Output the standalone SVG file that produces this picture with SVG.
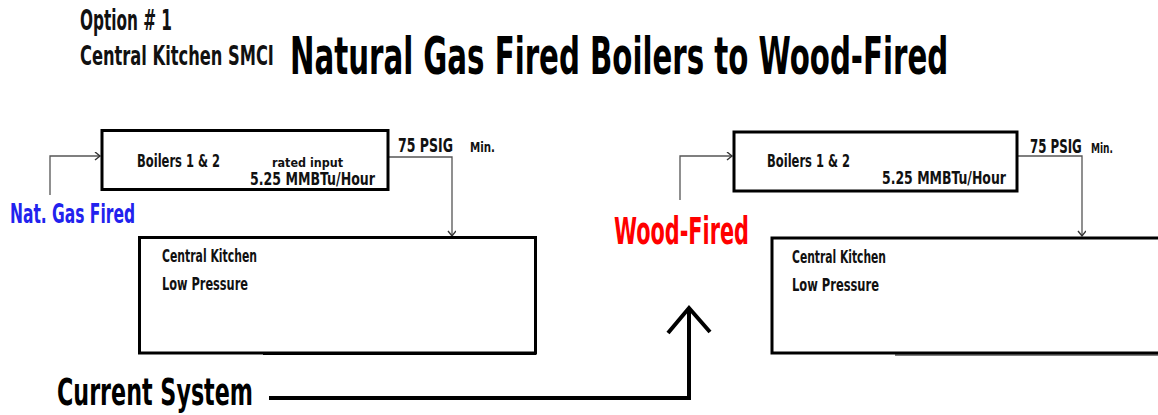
<svg xmlns="http://www.w3.org/2000/svg" width="1158" height="415" viewBox="0 0 1158 415">
<style>
text{font-family:"DejaVu Sans Condensed","Liberation Sans Narrow","Liberation Sans",sans-serif;font-weight:bold;fill:#111}
.box{fill:#fff;stroke:#000;stroke-width:3}
.thin{fill:none;stroke:#555;stroke-width:1.3}
.thick{fill:none;stroke:#000;stroke-width:4}
</style>
<defs>
<marker id="chev" markerUnits="userSpaceOnUse" markerWidth="10" markerHeight="10" refX="6" refY="4" orient="auto">
<path d="M1,0 L6,4 L1,8" fill="none" stroke="#333" stroke-width="1.4"/>
</marker>
</defs>
<g id="title">
<text x="80" y="30" font-size="28" textLength="92" lengthAdjust="spacingAndGlyphs">Option # 1</text>
<g transform="translate(80,65) scale(0.7,1)">
<text x="0" y="0" font-size="27" textLength="277" lengthAdjust="spacingAndGlyphs">Central Kitchen SMCI</text>
</g>
<g transform="translate(290,74) scale(0.6,1)">
<text x="0" y="0" font-size="51" style="fill:#000" textLength="1097" lengthAdjust="spacingAndGlyphs">Natural Gas Fired Boilers to Wood-Fired</text>
</g>
</g>
<g id="connectors">
<path class="thin" d="M50,195 V156 H100" marker-end="url(#chev)"/>
<path class="thin" d="M389,157 H452 V236" marker-end="url(#chev)"/>
<path class="thin" d="M680,200 V156 H732" marker-end="url(#chev)"/>
<path class="thin" d="M1018,156 H1082 V236" marker-end="url(#chev)"/>
<path class="thick" d="M269,398 H689 V308"/>
<polyline class="thick" points="668,333 689,308 710,332"/>
</g>
<g id="boilers-left">
<rect class="box" x="102" y="130.5" width="286" height="59"/>
<text x="137" y="167" font-size="18" textLength="83" lengthAdjust="spacingAndGlyphs">Boilers 1  &amp; 2</text>
<text x="272" y="167" font-size="12" textLength="71" lengthAdjust="spacingAndGlyphs">rated input</text>
<text x="250" y="185" font-size="17" textLength="125" lengthAdjust="spacingAndGlyphs">5.25 MMBTu/Hour</text>
</g>
<g id="kitchen-left">
<rect class="box" x="139.5" y="237.5" width="396" height="115.5"/>
<line x1="263" y1="354.5" x2="536" y2="354.5" stroke="#000" stroke-width="1"/>
<text x="162" y="262" font-size="18" textLength="95" lengthAdjust="spacingAndGlyphs">Central Kitchen</text>
<text x="162" y="290" font-size="18" textLength="86" lengthAdjust="spacingAndGlyphs">Low Pressure</text>
</g>
<g id="boilers-right">
<rect class="box" x="734" y="132" width="283" height="59"/>
<text x="767" y="167" font-size="18" textLength="83" lengthAdjust="spacingAndGlyphs">Boilers 1  &amp; 2</text>
<text x="882" y="184" font-size="17" textLength="124" lengthAdjust="spacingAndGlyphs">5.25 MMBTu/Hour</text>
</g>
<g id="kitchen-right">
<rect class="box" x="772" y="238" width="420" height="115"/>
<line x1="895" y1="355" x2="1158" y2="355" stroke="#000" stroke-width="1"/>
<text x="792" y="263" font-size="18" textLength="94" lengthAdjust="spacingAndGlyphs">Central Kitchen</text>
<text x="792" y="291" font-size="18" textLength="87" lengthAdjust="spacingAndGlyphs">Low Pressure</text>
</g>
<g id="labels">
<text x="398" y="152" font-size="19" textLength="55" lengthAdjust="spacingAndGlyphs">75 PSIG</text>
<text x="470" y="152" font-size="14" textLength="25" lengthAdjust="spacingAndGlyphs">Min.</text>
<g transform="translate(1030,153) scale(0.7,1)">
<text x="0" y="0" font-size="19" textLength="74" lengthAdjust="spacingAndGlyphs">75 PSIG</text>
</g>
<text x="1091" y="153" font-size="14" textLength="22" lengthAdjust="spacingAndGlyphs">Min.</text>
<text x="10" y="223" font-size="27" style="fill:#2222ee" textLength="125" lengthAdjust="spacingAndGlyphs">Nat. Gas Fired</text>
<text x="614" y="244" font-size="37" style="fill:#ff0000" textLength="135" lengthAdjust="spacingAndGlyphs">Wood-Fired</text>
<text x="57" y="405" font-size="37" style="fill:#000" textLength="196" lengthAdjust="spacingAndGlyphs">Current System</text>
</g>
</svg>
